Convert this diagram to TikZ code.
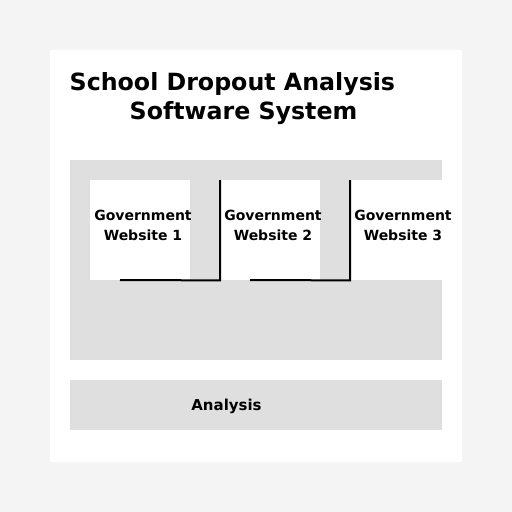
\documentclass[tikz,border=0pt]{standalone}
\usepackage{fontspec}
\setmainfont{DejaVu Sans}
\definecolor{pagebg}{HTML}{F4F4F4}
\definecolor{panelgrey}{HTML}{DFDFDF}
\begin{document}
\begin{tikzpicture}[x=1pt,y=-1pt,
  site/.style={draw=none,fill=white,minimum width=100pt,minimum height=100pt,inner sep=0pt,anchor=north west},
  sitetext/.style={font=\fontsize{14}{20}\selectfont\bfseries,align=center,inner sep=0pt},
  titletext/.style={font=\fontsize{23.7}{29}\selectfont\bfseries,inner sep=0pt},
  link/.style={draw=black,line width=2pt}]
\fill[pagebg] (0,0) rectangle (512,512);
\useasboundingbox (0,0) rectangle (512,512);
\fill[white] (50,50) rectangle (462,462);
\node[titletext,anchor=base west] (t1) at (69.5,90.5) {School Dropout Analysis};
\node[titletext,anchor=base] (t2) at (243.5,119.5) {Software System};
\node[fill=panelgrey,minimum width=372pt,minimum height=200pt,inner sep=0pt,anchor=north west] (grp) at (70,160) {};
\node[site] (w1) at (90,180) {};
\node[site] (w2) at (220,180) {};
\node[site] (w3) at (350,180) {};
\node[sitetext] (l1) at (143,225) {Government\\Website 1};
\node[sitetext] (l2) at (273,225) {Government\\Website 2};
\node[sitetext] (l3) at (403,225) {Government\\Website 3};
\coordinate (e1) at (120,280);
\coordinate (e2) at (250,280);
\draw[link] (w2.north west) -- (w2.south west) -- (e1);
\draw[link] (w3.north west) -- (w3.south west) -- (e2);
\node[fill=panelgrey,minimum width=372pt,minimum height=50pt,inner sep=0pt,anchor=north west] (an) at (70,380) {};
\node[font=\fontsize{15}{18}\selectfont\bfseries,anchor=base,inner sep=0pt] (anl) at (226.5,410) {Analysis};
\end{tikzpicture}
\end{document}
